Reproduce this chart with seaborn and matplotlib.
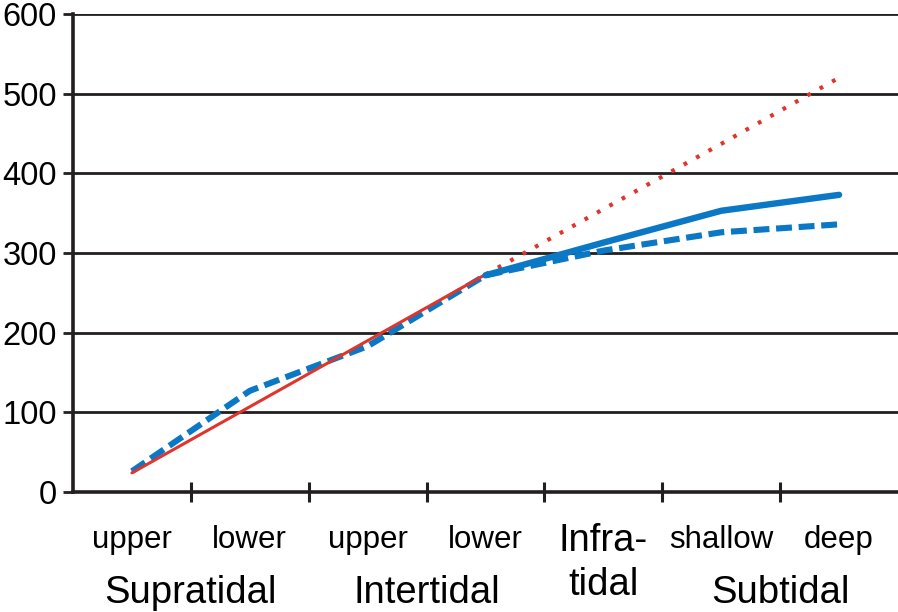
import matplotlib
matplotlib.use("Agg")
import matplotlib.pyplot as plt
import seaborn as sns

# data
stage_labels = ["upper", "lower", "upper", "lower", "", "shallow", "deep"]
group_labels = ["Supratidal", "Intertidal", "Subtidal"]
group_pos = [0.5, 2.5, 5.5]
infra_label = ["Infra-", "tidal"]
infra_pos = 4

x_red_solid = [0, 1, 2, 3]
y_red_solid = [24, 107, 190, 273]
x_red_dot = [3, 4, 5, 6]
y_red_dot = [273, 355, 437, 520]
x_blue_dash = [0, 1, 2, 3, 4, 5, 6]
y_blue_dash = [26, 127, 183, 272, 303, 326, 336]
x_blue_solid = [3, 4, 5, 6]
y_blue_solid = [272, 313, 353, 373]

BLUE = "#0a78c4"
RED = "#e0352c"
DARK = "#231f20"

sns.set_theme(style="white")
plt.rcParams['font.family'] = ['Liberation Sans', 'DejaVu Sans']
plt.rcParams['text.color'] = 'black'
plt.rcParams['ytick.left'] = True
plt.rcParams['xtick.bottom'] = True
plt.rcParams['ytick.major.size'] = 7.5
plt.rcParams['ytick.major.width'] = 2

fig = plt.figure(figsize=(8.98, 6.12), dpi=100)
ax = fig.add_axes([73 / 898, 1 - 492 / 612, 825 / 898, 478 / 612])

# grid behind lines
ax.set_axisbelow(True)
ax.yaxis.grid(True, color=DARK, linewidth=2.0)
ax.xaxis.grid(False)

sns.lineplot(x=x_blue_dash, y=y_blue_dash, ax=ax, color=BLUE, linewidth=4.4)
ax.lines[-1].set_dashes((2.6, 1.1))
sns.lineplot(x=x_red_solid, y=y_red_solid, ax=ax, color=RED, linewidth=2.2)
sns.lineplot(x=x_red_dot, y=y_red_dot, ax=ax, color=RED, linewidth=3.0)
ax.lines[-1].set_dashes((0.9, 2.5))
sns.lineplot(x=x_blue_solid, y=y_blue_solid, ax=ax, color=BLUE, linewidth=4.6)

ax.set_xlim(-0.5, 6.5)
ax.set_ylim(0, 600)
ax.set_yticks(range(0, 601, 100))
ax.tick_params(axis="y", direction="out", length=7.5, width=2, color=DARK,
               labelsize=23.5, pad=4, labelcolor="black", left=True)

# boundary ticks on x axis, labels drawn as text
ax.set_xticks([0.5, 1.5, 2.5, 3.5, 4.5, 5.5])
ax.set_xticklabels([])
ax.tick_params(axis="x", direction="inout", length=15, width=2.2, color=DARK, bottom=True)

for side in ["top", "right"]:
    ax.spines[side].set_visible(False)
for side in ["left", "bottom"]:
    ax.spines[side].set_color(DARK)
    ax.spines[side].set_linewidth(2.6)

ax.set_xlabel("")
ax.set_ylabel("")

tr = ax.get_xaxis_transform()
h = 478.0
for i, lab in enumerate(stage_labels):
    if lab:
        ax.text(i, -(548 - 492) / h, lab, transform=tr, ha="center", va="baseline",
                fontsize=22.5, color="black", clip_on=False)
for p, lab in zip(group_pos, group_labels):
    ax.text(p, -(603 - 492) / h, lab, transform=tr, ha="center", va="baseline",
            fontsize=27.5, color="black", clip_on=False)
ax.text(infra_pos, -(551 - 492) / h, infra_label[0], transform=tr, ha="center",
        va="baseline", fontsize=27.5, color="black", clip_on=False)
ax.text(infra_pos, -(595 - 492) / h, infra_label[1], transform=tr, ha="center",
        va="baseline", fontsize=27.5, color="black", clip_on=False)

fig.savefig("out.png", dpi=100)
